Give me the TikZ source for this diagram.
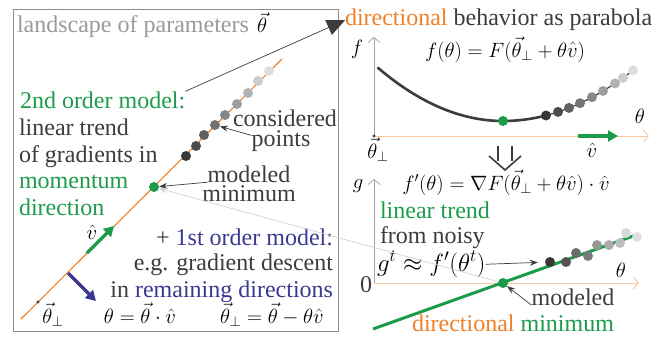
\documentclass[tikz,border=0pt]{standalone}
\usepackage{fontspec}
\setmainfont{Liberation Serif}
\usetikzlibrary{arrows.meta}
\definecolor{cgreen}{RGB}{28,155,75}
\definecolor{corange}{RGB}{240,128,40}
\definecolor{corangel}{RGB}{249,201,160}
\definecolor{cblue}{RGB}{58,56,145}
\definecolor{ctext}{RGB}{60,60,60}
\definecolor{cgrayt}{RGB}{154,154,154}
\definecolor{cbox}{RGB}{140,140,140}
\definecolor{caxis}{RGB}{165,165,165}
\begin{document}
\begin{tikzpicture}[x=1pt,y=-1pt,
  txt/.style={font=\fontsize{24}{27}\selectfont, text=ctext, inner sep=0pt, outer sep=0pt},
  mth/.style={font=\fontsize{22}{26}\selectfont, text=black, inner sep=0pt, outer sep=0pt},
  dot/.style={circle, inner sep=0pt, minimum size=10pt, draw=none},
  thinarrow/.style={draw=ctext, line width=0.7pt, -{Stealth[length=8pt,width=6pt]}},
  axisv/.style={draw=caxis, line width=0.8pt, -{Straight Barb[length=5pt,width=12pt]}},
  axish/.style={draw=corangel, line width=1pt, -{Straight Barb[length=5pt,width=12pt]}},
  garrow/.style={draw=cgreen, line width=3.5pt, -{Triangle[length=10pt,width=11pt]}},
  barrow/.style={draw=cblue, line width=3.5pt, -{Triangle[length=10pt,width=11pt]}},
]
\useasboundingbox (0,0) rectangle (671,337);

% ---------- left panel ----------
\draw[draw=cbox, line width=1pt] (13,10) rectangle (338,331);
\node[txt, text=cgrayt, anchor=base west] (title) at (17,33) {landscape of parameters};
\node[mth, anchor=base west] (thv) at (257,33) {$\vec\theta$};

\coordinate (la) at (21,319);
\coordinate (lb) at (282,59);
\draw[draw=corange, line width=1.1pt] (la) -- (lb);

\node[dot, fill=black!78] (p1) at (186,156) {};
\node[dot, fill=black!70] (p2) at (196,146) {};
\node[dot, fill=black!62] (p3) at (204,135) {};
\node[dot, fill=black!55] (p4) at (215,125) {};
\node[dot, fill=black!47] (p5) at (225,115) {};
\node[dot, fill=black!38] (p6) at (237,104) {};
\node[dot, fill=black!30] (p7) at (248,93) {};
\node[dot, fill=black!20] (p8) at (258,81) {};
\node[dot, fill=black!13] (p9) at (269,71) {};

\node[dot, fill=cgreen] (mL) at (154,187) {};
\fill[ctext] (38,302) circle (1.6pt);

\node[txt, text=cgreen, anchor=base west] (so) at (20,108) {2nd order model:};
\node[txt, anchor=base west] (l2) at (19,135) {linear trend};
\node[txt, anchor=base west] (l3) at (19,162) {of gradients in};
\node[txt, text=cgreen, anchor=base west] (l4) at (19,188) {momentum};
\node[txt, text=cgreen, anchor=base west] (l5) at (19,215) {direction};

\node[txt, anchor=base west] (cons) at (233,126) {considered};
\node[txt, anchor=base] (pts) at (281,146) {points};
\draw[thinarrow] (pts.170) -- (p4);

\node[txt, anchor=base] (mm1) at (249,182) {modeled};
\node[txt, anchor=base] (mm2) at (249,201) {minimum};
\draw[thinarrow] (mm1.south west) -- (mL);

\coordinate (va) at (87,253);
\coordinate (vb) at (114,226);
\draw[garrow] (va) -- (vb);
\node[mth, anchor=base] (vlab) at (92,239) {$\hat v$};
\coordinate (ba) at (68,273);
\coordinate (bb) at (96,301);
\draw[barrow] (ba) -- (bb);

\node[txt, anchor=base east] (fo1) at (333,245) {+ {\color{cblue}1st order model:}};
\node[txt, anchor=base east] (fo2) at (333,270) {e.g. gradient descent};
\node[txt, anchor=base east] (fo3) at (333,297) {in {\color{cblue}remaining directions}};

\node[mth, anchor=base] (b1) at (53,323) {$\vec\theta_\perp$};
\node[mth, anchor=base] (b2) at (140,323) {$\theta=\vec\theta\cdot\hat v$};
\node[mth, anchor=base] (b3) at (272,323) {$\vec\theta_\perp=\vec\theta-\theta\hat v$};

% ---------- upper right ----------
\node[txt, anchor=base west] (rt) at (345,26) {{\color{corange}directional} behavior as parabola};
\draw[draw=ctext, line width=0.7pt, -{Triangle[length=18pt,width=16pt]}] (so.north east) -- (rt.west);

\coordinate (o1) at (374,136);
\coordinate (o1y) at (374,37);
\coordinate (o1x) at (649,136);
\draw[axisv] (o1) -- (o1y);
\draw[axish] (o1) -- (o1x);
\fill[ctext] (o1) circle (1.6pt);
\node[mth, anchor=base] (fl) at (357,55) {$f$};
\node[mth, anchor=base] (th1) at (640,123) {$\theta$};
\node[mth, anchor=base] (tp1) at (378,158) {$\vec\theta_\perp$};
\node[mth, anchor=base] (fm1) at (505,57) {$f(\theta)=F(\vec\theta_\perp+\theta\hat v)$};

\draw[ctext, line width=2.6pt, line cap=round] plot[domain=378:503, samples=40] (\x, {121-34*((\x-503)/100)^2});
\draw[ctext, line width=2.6pt, line cap=round] plot[domain=503:546, samples=20] (\x, {121-30*((\x-503)/100)^2});
\draw[ctext, line width=1.2pt] plot[domain=546:633, samples=40] (\x, {121-30*((\x-503)/100)^2});

\node[dot, fill=black!78] (c1) at (546,115.5) {};
\node[dot, fill=black!70] (c2) at (558,111.9) {};
\node[dot, fill=black!62] (c3) at (569,107.9) {};
\node[dot, fill=black!55] (c4) at (580,103.2) {};
\node[dot, fill=black!47] (c5) at (592,97.2) {};
\node[dot, fill=black!38] (c6) at (603,91) {};
\node[dot, fill=black!30] (c7) at (615,83.4) {};
\node[dot, fill=black!20] (c8) at (623,77.8) {};
\node[dot, fill=black!13] (c9) at (633,70.3) {};
\node[dot, fill=cgreen] (mU) at (503,121) {};

\coordinate (ua) at (578,136);
\coordinate (ub) at (618,136);
\draw[garrow] (ua) -- (ub);
\node[mth, anchor=base] (vl2) at (592,157) {$\hat v$};

% double arrow
\draw[ctext, line width=1.6pt] (498,146) -- (498,161) (512,146) -- (512,161);
\draw[ctext, line width=1.6pt, line join=miter] (489,156) -- (505,170) -- (521,156);

% ---------- lower right ----------
\coordinate (o2) at (374,283);
\coordinate (o2y) at (374,179);
\coordinate (o2x) at (639,283);
\draw[axisv] (o2) -- (o2y);
\draw[axish] (o2) -- (o2x);
\node[mth, anchor=base] (gl) at (358,188) {$g$};
\node[mth, anchor=base] (fm2) at (506,190) {$f'(\theta)=\nabla F(\vec\theta_\perp+\theta\hat v)\cdot\hat v$};
\node[txt, anchor=base] (zero) at (366,292) {0};
\node[mth, anchor=base] (th2) at (621,277) {$\theta$};

\coordinate (ga) at (373,329);
\coordinate (gb) at (636,235);
\draw[draw=cgreen, line width=3pt] (ga) -- (gb);

\node[dot, fill=black!78] (q1) at (550,262) {};
\node[dot, fill=black!68] (q2) at (566,262) {};
\node[dot, fill=black!58] (q3) at (576,253) {};
\node[dot, fill=black!52] (q4) at (588,256) {};
\node[dot, fill=black!40] (q5) at (597,245) {};
\node[dot, fill=black!33] (q6) at (609,245) {};
\node[dot, fill=black!26] (q7) at (620,243) {};
\node[dot, fill=black!15] (q8) at (626,233) {};
\node[dot, fill=black!12] (q9) at (637,237) {};
\node[dot, fill=cgreen] (mR) at (503,283) {};

\node[txt, text=cgreen, anchor=base west] (lt) at (380,218) {linear trend};
\node[txt, anchor=base west] (fn) at (380,243) {from noisy};
\node[mth, font=\fontsize{25.5}{28}\selectfont, anchor=base west] (gt) at (377,271) {$g^t\approx f'(\theta^t)$};
\draw[thinarrow, shorten >=7pt] (gt.east) -- (q1);

\node[txt, anchor=base] (mod) at (573,305) {modeled};
\draw[thinarrow] (mod.south west) -- (mR);
\node[txt, anchor=base west] (dm) at (412,331) {{\color{corange}directional} {\color{cgreen}minimum}};

\draw[draw=black!18, line width=0.7pt, -{Stealth[length=8pt,width=6pt]}] (mR) -- (mL);
\end{tikzpicture}
\end{document}
